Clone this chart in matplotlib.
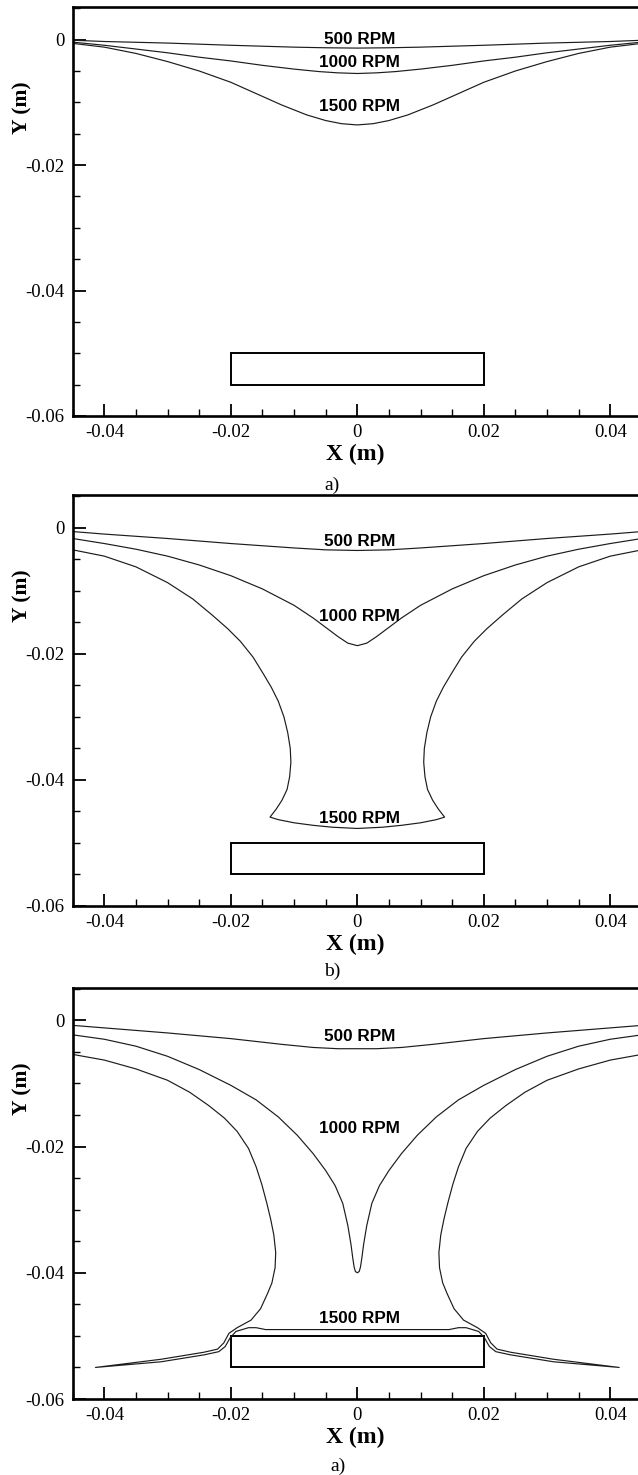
import matplotlib
matplotlib.use('Agg')
import matplotlib.pyplot as plt
from matplotlib.patches import Rectangle
from matplotlib.ticker import MultipleLocator, FixedLocator, FixedFormatter

# ---------------- data ----------------
x_ticks = [-0.04, -0.02, 0, 0.02, 0.04]
x_tick_labels = ['-0.04', '-0.02', '0', '0.02', '0.04']
y_ticks = [0, -0.02, -0.04, -0.06]
y_tick_labels = ['0', '-0.02', '-0.04', '-0.06']
panel_letters = ['a)', 'b)', 'a)']
rpm_labels = ['500 RPM', '1000 RPM', '1500 RPM']

# block (rectangle) : x from, x to, y from, y to
block_x = [-0.02, 0.02]
block_y = [-0.055, -0.05]

# ---- panel 1 ----
p1_500_x = [-0.045, -0.040, -0.030, -0.020, -0.010, -0.005, 0.0, 0.005, 0.010, 0.020, 0.030, 0.040, 0.045]
p1_500_y = [-0.0001, -0.0003, -0.00055, -0.0009, -0.0012, -0.0013, -0.00135, -0.0013, -0.0012, -0.0009, -0.00055, -0.0003, -0.0001]

p1_1000_x = [-0.045, -0.040, -0.035, -0.030, -0.025, -0.020, -0.015, -0.010, -0.006, -0.003, 0.0,
             0.003, 0.006, 0.010, 0.015, 0.020, 0.025, 0.030, 0.035, 0.040, 0.045]
p1_1000_y = [-0.0004, -0.0009, -0.0015, -0.0021, -0.0028, -0.0034, -0.0041, -0.0047, -0.0051, -0.0053, -0.0054,
             -0.0053, -0.0051, -0.0047, -0.0041, -0.0034, -0.0028, -0.0021, -0.0015, -0.0009, -0.0004]

p1_1500_x = [-0.045, -0.040, -0.035, -0.030, -0.025, -0.020, -0.016, -0.012, -0.008, -0.005, -0.0025, 0.0,
             0.0025, 0.005, 0.008, 0.012, 0.016, 0.020, 0.025, 0.030, 0.035, 0.040, 0.045]
p1_1500_y = [-0.0006, -0.0012, -0.0022, -0.0035, -0.0050, -0.0068, -0.0086, -0.0104, -0.0120, -0.0129, -0.0134, -0.0136,
             -0.0134, -0.0129, -0.0120, -0.0104, -0.0086, -0.0068, -0.0050, -0.0035, -0.0022, -0.0012, -0.0006]

# ---- panel 2 ----
p2_500_x = [-0.045, -0.040, -0.030, -0.020, -0.010, -0.005, 0.0, 0.005, 0.010, 0.020, 0.030, 0.040, 0.045]
p2_500_y = [-0.0006, -0.0010, -0.0017, -0.0025, -0.0032, -0.0035, -0.0036, -0.0035, -0.0032, -0.0025, -0.0017, -0.0010, -0.0006]

p2_1000_x = [-0.045, -0.040, -0.035, -0.030, -0.025, -0.020, -0.015, -0.010, -0.007, -0.005, -0.003, -0.0015, 0.0,
             0.0015, 0.003, 0.005, 0.007, 0.010, 0.015, 0.020, 0.025, 0.030, 0.035, 0.040, 0.045]
p2_1000_y = [-0.0017, -0.0025, -0.0034, -0.0045, -0.0059, -0.0076, -0.0097, -0.0123, -0.0143, -0.0158, -0.0173, -0.0183, -0.0187,
             -0.0183, -0.0173, -0.0158, -0.0143, -0.0123, -0.0097, -0.0076, -0.0059, -0.0045, -0.0034, -0.0025, -0.0017]

p2_1500_x = [-0.045, -0.040, -0.035, -0.030, -0.026, -0.023, -0.0205, -0.0185, -0.0165, -0.0149, -0.0136, -0.0125,
             -0.0116, -0.0110, -0.0106, -0.0105, -0.0107, -0.0111, -0.0119, -0.0128, -0.0138,
             -0.0125, -0.0100, -0.0070, -0.0040, 0.0, 0.0040, 0.0070, 0.0100, 0.0125,
             0.0138, 0.0128, 0.0119, 0.0111, 0.0107, 0.0105, 0.0106, 0.0110, 0.0116,
             0.0125, 0.0136, 0.0149, 0.0165, 0.0185, 0.0205, 0.023, 0.026, 0.030, 0.035, 0.040, 0.045]
p2_1500_y = [-0.0035, -0.0045, -0.0062, -0.0087, -0.0113, -0.0138, -0.0160, -0.0180, -0.0205, -0.0231, -0.0253, -0.0275,
             -0.0300, -0.0325, -0.0350, -0.0372, -0.0395, -0.0415, -0.0432, -0.0446, -0.0459,
             -0.0463, -0.0468, -0.0472, -0.0475, -0.0477, -0.0475, -0.0472, -0.0468, -0.0463,
             -0.0459, -0.0446, -0.0432, -0.0415, -0.0395, -0.0372, -0.0350, -0.0325, -0.0300,
             -0.0275, -0.0253, -0.0231, -0.0205, -0.0180, -0.0160, -0.0138, -0.0113, -0.0087, -0.0062, -0.0045, -0.0035]

# ---- panel 3 ----
p3_500_x = [-0.045, -0.040, -0.030, -0.020, -0.012, -0.007, -0.003, 0.0, 0.003, 0.007, 0.012, 0.020, 0.030, 0.040, 0.045]
p3_500_y = [-0.0008, -0.0012, -0.0020, -0.0029, -0.0038, -0.0043, -0.0045, -0.0045, -0.0045, -0.0043, -0.0038, -0.0029, -0.0020, -0.0012, -0.0008]

p3_1000_x = [-0.045, -0.040, -0.035, -0.030, -0.025, -0.020, -0.016, -0.0125, -0.0095, -0.0070, -0.0050, -0.0035,
             -0.0023, -0.0015, -0.0010, -0.0007, -0.0005, -0.0003, 0.0, 0.0003, 0.0005, 0.0007, 0.0010, 0.0015, 0.0023,
             0.0035, 0.0050, 0.0070, 0.0095, 0.0125, 0.016, 0.020, 0.025, 0.030, 0.035, 0.040, 0.045]
p3_1000_y = [-0.0023, -0.0030, -0.0041, -0.0057, -0.0078, -0.0103, -0.0126, -0.0153, -0.0182, -0.0211, -0.0238, -0.0262,
             -0.0290, -0.0325, -0.0355, -0.0378, -0.0391, -0.0398, -0.0400, -0.0398, -0.0391, -0.0378, -0.0355, -0.0325, -0.0290,
             -0.0262, -0.0238, -0.0211, -0.0182, -0.0153, -0.0126, -0.0103, -0.0078, -0.0057, -0.0041, -0.0030, -0.0023]

p3_1500_x = [-0.045, -0.040, -0.035, -0.030, -0.0265, -0.0235, -0.0210, -0.0190, -0.0172, -0.0160, -0.0151, -0.0143,
             -0.0137, -0.0132, -0.0129, -0.0130, -0.0135, -0.0142, -0.0153, -0.0168, -0.0190, -0.0203, -0.0211,
             -0.0221, -0.0243, -0.0310, -0.0414,
             -0.0310, -0.0242, -0.0219, -0.0209, -0.0201, -0.0192, -0.0172, -0.0160, -0.0145, 0.0,
             0.0145, 0.0160, 0.0172, 0.0192, 0.0201, 0.0209, 0.0219, 0.0242, 0.0310,
             0.0414, 0.0310, 0.0243, 0.0221,
             0.0211, 0.0203, 0.0190, 0.0168, 0.0153, 0.0142, 0.0135, 0.0130, 0.0129, 0.0132, 0.0137,
             0.0143, 0.0151, 0.0160, 0.0172, 0.0190, 0.0210, 0.0235, 0.0265, 0.030, 0.035, 0.040, 0.045]
p3_1500_y = [-0.0054, -0.0063, -0.0077, -0.0095, -0.0114, -0.0135, -0.0155, -0.0176, -0.0203, -0.0232, -0.0260, -0.0290,
             -0.0315, -0.0340, -0.0368, -0.0392, -0.0416, -0.0433, -0.0457, -0.0475, -0.0487, -0.0496, -0.0511,
             -0.0521, -0.0526, -0.0537, -0.0550,
             -0.0541, -0.0530, -0.0525, -0.0517, -0.0503, -0.0493, -0.0487, -0.0487, -0.0490, -0.0490,
             -0.0490, -0.0487, -0.0487, -0.0493, -0.0503, -0.0517, -0.0525, -0.0530, -0.0541,
             -0.0550, -0.0537, -0.0526, -0.0521,
             -0.0511, -0.0496, -0.0487, -0.0475, -0.0457, -0.0433, -0.0416, -0.0392, -0.0368, -0.0340, -0.0315,
             -0.0290, -0.0260, -0.0232, -0.0203, -0.0176, -0.0155, -0.0135, -0.0114, -0.0095, -0.0077, -0.0063, -0.0054]

# label y-positions (x = 0)
p1_label_y = [0.0000, -0.0037, -0.0107]
p2_label_y = [-0.0021, -0.0140, -0.0461]
p3_label_y = [-0.0026, -0.0171, -0.0472]

panels = [
    dict(curves=[(p1_500_x, p1_500_y), (p1_1000_x, p1_1000_y), (p1_1500_x, p1_1500_y)], labels=p1_label_y),
    dict(curves=[(p2_500_x, p2_500_y), (p2_1000_x, p2_1000_y), (p2_1500_x, p2_1500_y)], labels=p2_label_y),
    dict(curves=[(p3_500_x, p3_500_y), (p3_1000_x, p3_1000_y), (p3_1500_x, p3_1500_y)], labels=p3_label_y),
]

# ---------------- layout ----------------
W, H = 638, 1475
fig = plt.figure(figsize=(W / 100, H / 100), dpi=100)

serif = ['Liberation Serif', 'DejaVu Serif']
sans = ['Liberation Sans', 'DejaVu Sans']

# axes boxes in pixels: left, top, right, bottom
boxes = [(72.7, 7.0, 641.9, 416.0), (72.7, 495.0, 641.9, 906.0), (72.7, 987.5, 641.9, 1399.0)]
letter_pos = [(332, 485), (332, 971), (338, 1466)]

for i, (panel, box) in enumerate(zip(panels, boxes)):
    l, t, r, b = box
    ax = fig.add_axes([l / W, 1 - b / H, (r - l) / W, (b - t) / H])
    ax.set_xlim(-0.045, 0.045)
    ax.set_ylim(-0.06, 0.0052)

    for cx, cy in panel['curves']:
        ax.plot(cx, cy, color='#1c1c1c', lw=0.85, solid_joinstyle='round')

    ax.add_patch(Rectangle((block_x[0], block_y[0]), block_x[1] - block_x[0], block_y[1] - block_y[0],
                           fill=False, edgecolor='black', lw=1.4))

    for txt, ly in zip(rpm_labels, panel['labels']):
        ax.text(0.0003, ly, txt, ha='center', va='center', fontsize=12.3, fontweight='bold',
                family=sans, color='black')

    ax.xaxis.set_major_locator(FixedLocator(x_ticks))
    ax.xaxis.set_major_formatter(FixedFormatter(x_tick_labels))
    ax.yaxis.set_major_locator(FixedLocator(y_ticks))
    ax.yaxis.set_major_formatter(FixedFormatter(y_tick_labels))
    ax.xaxis.set_minor_locator(MultipleLocator(0.005))
    ax.yaxis.set_minor_locator(MultipleLocator(0.005))
    ax.tick_params(which='both', direction='in', top=False, right=False, colors='black')
    ax.tick_params(which='major', length=9, width=1.3, labelsize=13.5, pad=6)
    ax.tick_params(which='minor', length=5, width=1.0)
    for lab in ax.get_xticklabels() + ax.get_yticklabels():
        lab.set_family(serif)

    for s in ['left', 'bottom', 'top']:
        ax.spines[s].set_linewidth(1.9)
    ax.spines['right'].set_visible(False)

    ax.set_xlabel('X (m)', fontsize=17, fontweight='bold', family=serif)
    ax.xaxis.label.set_va('center')
    ax.xaxis.set_label_coords(0.497, -38 / (b - t))
    ax.set_ylabel('Y (m)', fontsize=15.5, fontweight='bold', family=serif)
    ax.yaxis.label.set_va('center')
    ax.yaxis.set_label_coords((22 - l) / (r - l), 1 - 101 / (b - t))

    lx, ly = letter_pos[i]
    fig.text(lx / W, 1 - ly / H, panel_letters[i], ha='center', va='center', fontsize=14, family=serif)

fig.savefig('out.png', dpi=100)
